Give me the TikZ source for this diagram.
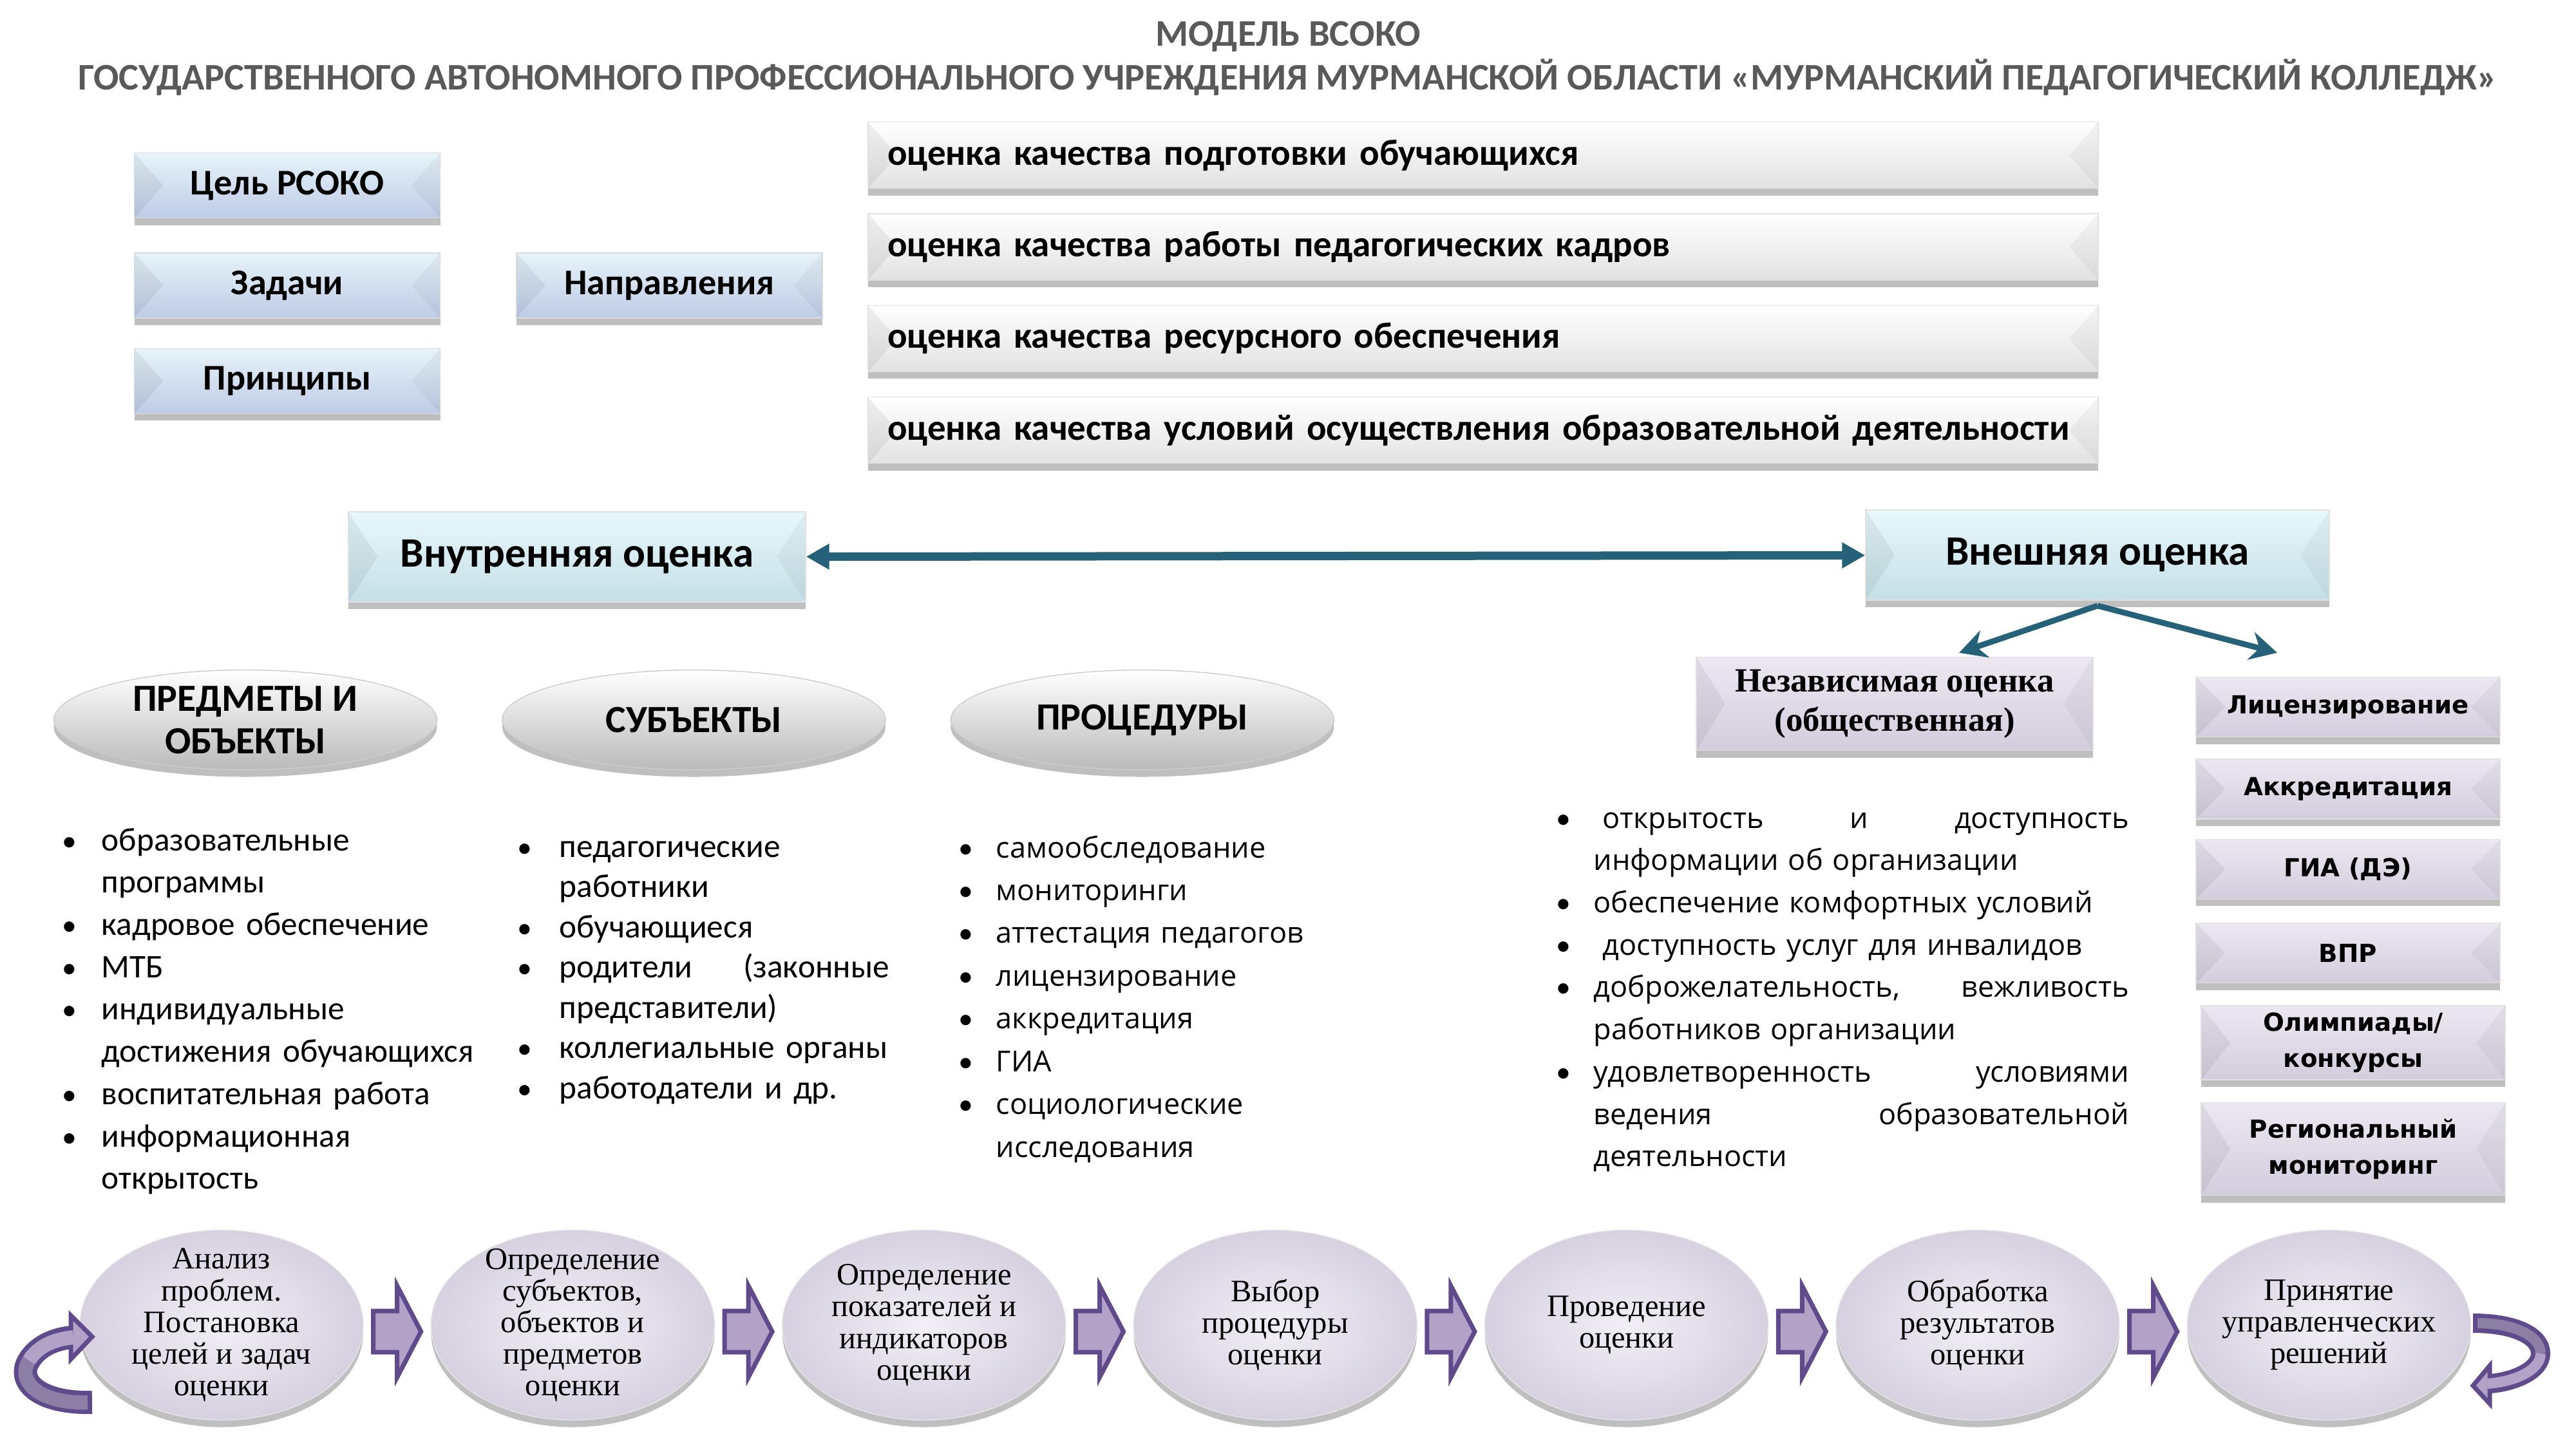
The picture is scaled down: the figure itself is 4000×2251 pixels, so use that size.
\documentclass[tikz,border=0pt]{standalone}
\usepackage{fontspec}
\setmainfont{Carlito}
\newfontfamily\osans{Open Sans}
\newfontfamily\dvsans{DejaVu Sans}
\newfontfamily\lserif{Liberation Serif}
\newfontfamily\bulfont{Carlito}
\usepackage{tikz}
\usetikzlibrary{arrows.meta,positioning,calc,shapes.geometric,shadows}
\definecolor{ttlgray}{HTML}{595959}
\definecolor{blueTop}{HTML}{E6F4FA}
\definecolor{blueBot}{HTML}{BECBE6}
\definecolor{grayBot}{HTML}{E2E2E2}
\definecolor{cyanTop}{HTML}{E8F8FB}
\definecolor{cyanBot}{HTML}{C4DFE7}
\definecolor{lavTop}{HTML}{ECE8F1}
\definecolor{lavBot}{HTML}{D3CCDD}
\definecolor{tealArr}{HTML}{25627A}
\definecolor{purDark}{HTML}{5F4B8B}
\definecolor{purLight}{HTML}{B3A2C7}
\definecolor{purMid}{HTML}{8C7FA6}
\definecolor{ovalIn}{HTML}{F2EFF6}
\definecolor{ovalOut}{HTML}{D6D0E0}
\newlength{\bulind}
\newcommand{\bitem}[1]{\hangindent=\bulind\hangafter=1\noindent\makebox[\bulind][l]{{\bulfont\fontsize{13}{13}\selectfont\textbullet}}#1\par}
\tikzset{
  bevel/.style   ={path picture={
      \fill[black,opacity=.06] (path picture bounding box.north west)
        -- ([xshift=4.5mm]path picture bounding box.west) -- (path picture bounding box.south west) -- cycle;
      \fill[black,opacity=.04] (path picture bounding box.north east)
        -- ([xshift=-4.5mm]path picture bounding box.east) -- (path picture bounding box.south east) -- cycle;}},
  softshadow/.style={drop shadow={shadow xshift=0mm,shadow yshift=-1.1mm,opacity=.25,fill=black}},
  bluebox/.style ={draw=black!15,top color=blueTop,bottom color=blueBot,bevel,softshadow,
                   minimum width=47.5mm,minimum height=10.1mm,inner sep=0pt,
                   font=\fontsize{16}{19}\selectfont\bfseries},
  dirbox/.style  ={draw=black!12,top color=white,bottom color=grayBot,bevel,softshadow,
                   text width=185mm,minimum height=10.3mm,inner xsep=3mm,align=left,
                   font=\fontsize{16.2}{19}\selectfont\bfseries},
  evalbox/.style ={draw=black!12,top color=cyanTop,bottom color=cyanBot,bevel,softshadow,
                   minimum height=14mm,font=\fontsize{18.5}{22}\selectfont\bfseries},
  extbox/.style  ={draw=black!12,top color=lavTop,bottom color=lavBot,bevel,softshadow,
                   minimum width=47.2mm,minimum height=9.3mm,inner sep=0pt,align=center,
                   font=\fontsize{11}{16}\selectfont\dvsans\bfseries},
  hdr/.style     ={ellipse,draw=black!20,top color=white,bottom color=black!27,softshadow,
                   minimum width=59.5mm,minimum height=15.5mm,inner sep=0pt,inner ysep=-2mm,
                   align=center,font=\fontsize{17}{18.8}\selectfont\bfseries},
  lst/.style     ={anchor=base west,inner sep=0pt,align=left},
  stepov/.style  ={ellipse,draw=black!10,inner color=ovalIn,outer color=ovalOut,softshadow,
                   minimum width=44mm,minimum height=29.5mm,inner xsep=-2mm,inner ysep=-3mm,
                   align=center,font=\fontsize{13.8}{14}\selectfont\lserif},
  tealarr/.style ={draw=tealArr,line width=0.9mm},
  purpath/.style ={draw=purDark,line width=0.7mm,line join=miter,fill=purLight},
  blockarr/.pic  ={\path[purpath] (-37,-32) -- (0,-32) -- (0,-71) -- (37,0) -- (0,71) -- (0,32) -- (-37,32) -- cycle;}
}
\begin{document}
\begin{tikzpicture}[x=0.1mm,y=-0.1mm]
\useasboundingbox (0,0) rectangle (4000,2251);
\node[align=center,text=ttlgray,font=\fontsize{16.6}{19.5}\selectfont\bfseries] (ttl) at (2000,91)
  {МОДЕЛЬ ВСОКО\\ГОСУДАРСТВЕННОГО АВТОНОМНОГО ПРОФЕССИОНАЛЬНОГО УЧРЕЖДЕНИЯ МУРМАНСКОЙ ОБЛАСТИ «МУРМАНСКИЙ ПЕДАГОГИЧЕСКИЙ КОЛЛЕДЖ»};
% goals, tasks, directions
\node[bluebox] (goal) at (446,288) {Цель РСОКО};
\node[bluebox,below=5.3mm of goal] (task) {Задачи};
\node[bluebox,below=4.6mm of task] (prin) {Принципы};
\node[bluebox,right=11.7mm of task] (dirs) {Направления};
\node[dirbox] (d1) at (2303,241) {оценка качества подготовки обучающихся};
\node[dirbox,below=3.8mm of d1] (d2) {оценка качества работы педагогических кадров};
\node[dirbox,below=3.8mm of d2] (d3) {оценка качества ресурсного обеспечения};
\node[dirbox,below=3.8mm of d3] (d4) {оценка качества условий осуществления образовательной деятельности};
% internal / external
\node[evalbox,minimum width=71mm] (inner) at (896,865) {Внутренняя оценка};
\node[evalbox,minimum width=72mm] (outer) at (3257,862) {Внешняя оценка};
\draw[tealarr,line width=1.3mm,{Triangle[length=3.6mm,width=3.8mm]}-{Triangle[length=3.6mm,width=3.8mm]}] (inner) -- (outer);
\node[extbox,minimum width=61.6mm,minimum height=14.5mm,font=\fontsize{15}{17.4}\selectfont\lserif\bfseries] (nez) at (2942,1093)
  {Независимая оценка\\(общественная)};
\node[extbox] (lic) at (3646,1098) {Лицензирование};
\node[extbox,below=3.3mm of lic] (acc) {Аккредитация};
\node[extbox,below=3.0mm of acc] (gia) {ГИА (ДЭ)};
\node[extbox,below=3.6mm of gia] (vpr) {ВПР};
\node[extbox,below=3.4mm of vpr,xshift=0.8mm,minimum height=11.5mm] (olym) {Олимпиады/\\конкурсы};
\node[extbox,below=3.4mm of olym,minimum height=14.4mm] (regm) {Региональный\\мониторинг};
\coordinate (apex) at ([yshift=-0.8mm]outer.south);
\coordinate (tipL) at ([xshift=10mm,yshift=0.6mm]nez.north);
\coordinate (tipR) at ([xshift=-11mm,yshift=3.7mm]lic.north);
\draw[tealarr,-{Stealth[length=4.2mm,width=4.4mm]}] (apex) -- (tipL);
\draw[tealarr,-{Stealth[length=4.2mm,width=4.4mm]}] (apex) -- (tipR);
% headers and lists
\node[hdr] (hobj) at (381,1118) {ПРЕДМЕТЫ И\\ОБЪЕКТЫ};
\node[hdr,right=10mm of hobj] (hsub) {СУБЪЕКТЫ};
\node[hdr,right=10mm of hsub] (hproc) {ПРОЦЕДУРЫ};
\node[lst,text width=66mm,font=\fontsize{14.6}{18.7}\selectfont] (lobj) at (96,1321)
  {\setlength{\bulind}{6.1mm}%
   \bitem{образовательные\newline программы}
   \bitem{кадровое обеспечение}
   \bitem{МТБ}
   \bitem{индивидуальные\newline достижения обучающихся}
   \bitem{воспитательная работа}
   \bitem{информационная\newline открытость}};
\node[lst,text width=57.7mm,font=\fontsize{14.6}{17.8}\selectfont] (lsub) at (803,1331)
  {\setlength{\bulind}{6.5mm}%
   \bitem{педагогические\newline работники}
   \bitem{обучающиеся}
   \bitem{родители\hfill(законные\newline представители)}
   \bitem{\mbox{коллегиальные органы}}
   \bitem{работодатели и др.}};
\node[lst,text width=60mm,font=\fontsize{12.8}{18.9}\selectfont\osans] (lproc) at (1488,1332)
  {\setlength{\bulind}{5.8mm}%
   \bitem{самообследование}
   \bitem{мониторинги}
   \bitem{аттестация педагогов}
   \bitem{лицензирование}
   \bitem{аккредитация}
   \bitem{ГИА}
   \bitem{социологические\newline исследования}};
\node[lst,text width=88.9mm,font=\fontsize{12.8}{18.7}\selectfont\osans] (lind) at (2416,1286)
  {\setlength{\bulind}{5.8mm}%
   \bitem{\kern1.4mm открытость\hfill и\hfill доступность\newline информации об организации}
   \bitem{обеспечение комфортных условий}
   \bitem{\kern1.4mm доступность услуг для инвалидов}
   \bitem{доброжелательность,\hfill вежливость\newline работников организации}
   \bitem{удовлетворенность\hfill условиями\newline ведения\hfill образовательной\newline деятельности}};
% assessment cycle
\node[stepov] (s1) at (344,2058) {Анализ\\проблем.\\Постановка\\целей и задач\\оценки};
\node[stepov,right=10.4mm of s1] (s2) {Определение\\субъектов,\\объектов и\\предметов\\оценки};
\node[stepov,right=10.4mm of s2] (s3) {Определение\\показателей и\\индикаторов\\оценки};
\node[stepov,right=10.4mm of s3] (s4) {Выбор\\процедуры\\оценки};
\node[stepov,right=10.4mm of s4] (s5) {Проведение\\оценки};
\node[stepov,right=10.4mm of s5] (s6) {Обработка\\результатов\\оценки};
\node[stepov,right=10.4mm of s6] (s7) {Принятие\\управленческих\\решений};
\pic at ($(s1.east)!.5!(s2.west)+(0,10)$) {blockarr};
\pic at ($(s2.east)!.5!(s3.west)+(0,10)$) {blockarr};
\pic at ($(s3.east)!.5!(s4.west)+(0,10)$) {blockarr};
\pic at ($(s4.east)!.5!(s5.west)+(0,10)$) {blockarr};
\pic at ($(s5.east)!.5!(s6.west)+(0,10)$) {blockarr};
\pic at ($(s6.east)!.5!(s7.west)+(0,10)$) {blockarr};
% loop-back arrows
\draw[purDark,line width=3.6mm] (143,2178) .. controls (60,2180) and (25,2145) .. (45,2113)
  .. controls (58,2092) and (82,2080) .. (110,2077);
\path[purpath] (110,2043) -- (143,2076) -- (110,2111) -- cycle;
\draw[purMid,line width=2.2mm,shorten <=0.7mm] (143,2178) .. controls (60,2180) and (25,2145) .. (45,2113);
\draw[purLight,line width=2.2mm] (45,2113) .. controls (58,2092) and (82,2080) .. (114,2077);
\draw[purDark,line width=3mm] (3840,2055) .. controls (3905,2055) and (3945,2075) .. (3945,2102)
  .. controls (3945,2128) and (3905,2146) .. (3866,2149);
\path[purpath] (3866,2121) -- (3840,2152) -- (3866,2180) -- cycle;
\draw[purMid,line width=1.6mm,shorten <=0.7mm] (3840,2055) .. controls (3905,2055) and (3945,2075) .. (3945,2102);
\draw[purLight,line width=1.6mm] (3945,2102) .. controls (3945,2128) and (3905,2146) .. (3862,2149);
\end{tikzpicture}
\end{document}
